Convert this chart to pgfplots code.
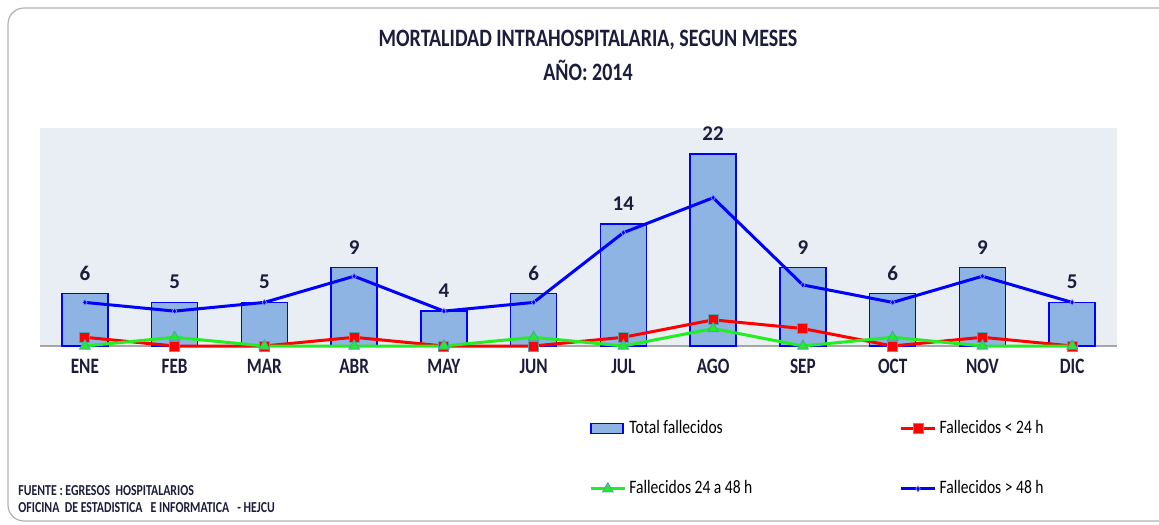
\documentclass[border=0pt]{standalone}
\usepackage{pgfplots}
\pgfplotsset{compat=1.18}
\usepackage{fontspec}
\setmainfont{Carlito}
\definecolor{bgc}{HTML}{E8EEF3}
\definecolor{barfill}{HTML}{8EB4E3}
\definecolor{txt}{HTML}{1C1C3C}
\definecolor{mk}{HTML}{4FA3B5}
\definecolor{lgreen}{HTML}{22EE22}
\newcommand{\sq}[1]{\scalebox{0.78}[1]{#1}}
\newcommand{\sqt}[1]{\scalebox{0.8}[1]{#1}}
\newcommand{\sql}[1]{\scalebox{0.82}[1]{#1}}
\pgfplotsset{barlegend/.style={legend image code/.code={\draw[##1] (0pt,-2.5pt) rectangle (16pt,2.5pt);}}}
\begin{document}
\begin{tikzpicture}
\begin{axis}[
  at={(0pt,0pt)}, anchor=south west,
  scale only axis, width=538.5pt, height=109pt,
  xmin=-0.5, xmax=11.5, ymin=0, ymax=25,
  axis background/.style={fill=bgc},
  axis x line*=bottom, axis y line=none,
  x axis line style={draw=gray!70, line width=1pt, -},
  xtick={0,...,11},
  xticklabels={\sq{ENE},\sq{FEB},\sq{MAR},\sq{ABR},\sq{MAY},\sq{JUN},\sq{JUL},\sq{AGO},\sq{SEP},\sq{OCT},\sq{NOV},\sq{DIC}},
  major tick length=0pt,
  xticklabel style={font=\bfseries\fontsize{11}{12}\selectfont, text=txt, yshift=-3pt},
  ytick=\empty,
  clip=false,
  legend columns=2,
  legend cell align=left,
  legend style={at={(0.504,-0.308)}, anchor=north west, draw=none, fill=none,
    font=\fontsize{9.5}{11}\selectfont, row sep=19pt,
    nodes={inner sep=1.5pt},
    /tikz/every even column/.append style={column sep=72pt}},
]
\addplot[ybar, bar width=23pt, fill=barfill, draw=blue, line width=0.8pt,
  nodes near coords,
  nodes near coords style={font=\bfseries\fontsize{10.5}{12}\selectfont, text=txt, yshift=3pt, /pgf/number format/assume math mode=true},
  barlegend]
  coordinates {(0,6) (1,5) (2,5) (3,9) (4,4) (5,6) (6,14) (7,22) (8,9) (9,6) (10,9) (11,5)};
\addlegendentry{\sql{Total fallecidos}}
\addplot[red, line width=1.5pt, mark=square*, mark size=2.5pt,
  mark options={fill=red, draw=mk, line width=0.5pt}]
  coordinates {(0,1) (1,0) (2,0) (3,1) (4,0) (5,0) (6,1) (7,3) (8,2) (9,0) (10,1) (11,0)};
\addlegendentry{\sql{Fallecidos < 24 h}}
\addplot[lgreen, line width=1.5pt, mark=triangle*, mark size=3pt,
  mark options={fill=lgreen, draw=mk, line width=0.5pt}]
  coordinates {(0,0) (1,1) (2,0) (3,0) (4,0) (5,1) (6,0) (7,2) (8,0) (9,1) (10,0) (11,0)};
\addlegendentry{\sql{Fallecidos 24 a 48 h}}
\addplot[blue, line width=1.5pt, mark=diamond*, mark size=1.5pt,
  mark options={fill=blue, draw=blue!40, line width=0.3pt}]
  coordinates {(0,5) (1,4) (2,5) (3,8) (4,4) (5,5) (6,13) (7,17) (8,7) (9,5) (10,8) (11,5)};
\addlegendentry{\sql{Fallecidos > 48 h}}
\end{axis}
\begin{scope}[x=1pt,y=1pt,shift={(-20pt,-89pt)}]
\useasboundingbox (0,0) rectangle (579.5,262);
\draw[gray!60, line width=0.6pt, rounded corners=8pt] (4,1.5) rectangle (600,258);
\node[font=\bfseries\fontsize{12.5}{14}\selectfont, text=txt] at (294,242) {\sqt{MORTALIDAD INTRAHOSPITALARIA, SEGUN MESES}};
\node[font=\bfseries\fontsize{12.5}{14}\selectfont, text=txt] at (294,227) {\sqt{AÑO: 2014}};
\node[font=\bfseries\fontsize{7.6}{8}\selectfont, text=txt, anchor=west, inner sep=0] at (9,16.5) {\sq{FUENTE : EGRESOS\ \ HOSPITALARIOS}};
\node[font=\bfseries\fontsize{7.6}{8}\selectfont, text=txt, anchor=west, inner sep=0] at (9,8) {\sq{OFICINA\ \ DE ESTADISTICA\ \ \ E INFORMATICA\ \ \ - HEJCU}};
\end{scope}
\end{tikzpicture}
\end{document}
